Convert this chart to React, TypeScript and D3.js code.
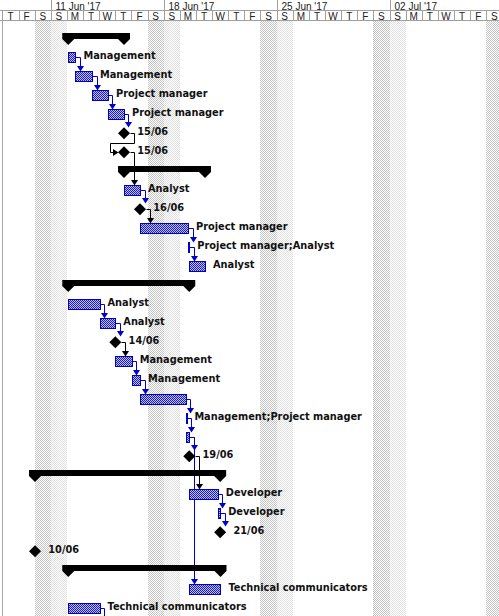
import React from "react";
import * as d3 from "d3";

const WIDTH = 499;
const HEIGHT = 616;

// timeline
const TIMELINE = ["2017-06-08 00:00", "2017-07-09 00:00"];
const WEEK_STARTS = ["2017-06-11 00:00", "2017-06-18 00:00", "2017-06-25 00:00", "2017-07-02 00:00"];
const WEEK_LABELS = ["11 Jun '17", "18 Jun '17", "25 Jun '17", "02 Jul '17"];
const DAY_LETTERS = ["S", "M", "T", "W", "T", "F", "S"];

// rows (one per task line)
const ROW_TYPES = [
  "summary", "task", "task", "task", "task", "milestone", "milestone",
  "summary", "task", "milestone", "task", "task", "task",
  "summary", "task", "task", "milestone", "task", "task", "task", "task", "task", "milestone",
  "summary", "task", "task", "milestone", "milestone",
  "summary", "task", "task",
];
const ROW_STARTS = [
  "2017-06-12 02:00", "2017-06-12 02:00", "2017-06-12 12:45", "2017-06-13 13:20", "2017-06-14 13:07", "2017-06-15 12:55", "2017-06-15 12:55",
  "2017-06-15 12:55", "2017-06-15 12:55", "2017-06-16 12:45", "2017-06-16 12:45", "2017-06-19 12:10", "2017-06-19 14:05",
  "2017-06-12 02:00", "2017-06-12 02:00", "2017-06-14 00:30", "2017-06-14 23:59", "2017-06-14 23:59", "2017-06-16 00:24", "2017-06-16 12:45", "2017-06-19 08:45", "2017-06-19 09:45", "2017-06-19 14:00",
  "2017-06-10 00:30", "2017-06-19 14:00", "2017-06-21 08:30", "2017-06-21 12:00", "2017-06-10 00:30",
  "2017-06-12 02:00", "2017-06-19 14:00", "2017-06-12 02:00",
];
const ROW_ENDS = [
  "2017-06-15 12:55", "2017-06-12 12:45", "2017-06-13 13:20", "2017-06-14 13:07", "2017-06-15 12:55", "2017-06-15 12:55", "2017-06-15 12:55",
  "2017-06-20 13:25", "2017-06-16 12:45", "2017-06-16 12:45", "2017-06-19 12:10", "2017-06-19 14:05", "2017-06-20 13:25",
  "2017-06-19 14:00", "2017-06-14 00:30", "2017-06-14 23:59", "2017-06-14 23:59", "2017-06-16 00:24", "2017-06-16 12:45", "2017-06-19 08:45", "2017-06-19 09:45", "2017-06-19 14:00", "2017-06-19 14:00",
  "2017-06-21 12:00", "2017-06-21 08:30", "2017-06-21 12:00", "2017-06-21 12:00", "2017-06-10 00:30",
  "2017-06-21 12:30", "2017-06-21 12:30", "2017-06-14 00:30",
];
const ROW_LABELS = [
  "", "Management", "Management", "Project manager", "Project manager", "15/06", "15/06",
  "", "Analyst", "16/06", "Project manager", "Project manager;Analyst", "Analyst",
  "", "Analyst", "Analyst", "14/06", "Management", "Management", "", "Management;Project manager", "", "19/06",
  "", "Developer", "Developer", "21/06", "10/06",
  "", "Technical communicators", "Technical communicators",
];

// finish-to-start links (row index -> row index); 31 = task below the visible area
const LINK_FROM = [1, 2, 3, 4, 5, 6, 8, 9, 10, 11, 14, 15, 16, 17, 18, 19, 20, 21, 21, 22, 24, 25, 30];
const LINK_TO = [2, 3, 4, 5, 6, 8, 9, 10, 11, 12, 15, 16, 17, 18, 19, 20, 21, 22, 29, 24, 25, 26, 31];

const BLUE = "#0000c8";
const LABEL_FONT = "'DejaVu Sans', Verdana, sans-serif";
const HEADER_FONT = "'Liberation Sans', Arial, sans-serif";

export default function App() {
  const parse = d3.timeParse("%Y-%m-%d %H:%M");
  const t0 = parse(TIMELINE[0])!;
  const t1 = parse(TIMELINE[1])!;
  const dayW = 16.13;
  const x = d3.scaleTime().domain([t0, t1]).range([2.4, 2.4 + 31 * dayW]);
  const y = d3.scaleLinear().domain([0, 30]).range([38.3, 38.3 + 19 * 30]);
  const days = d3.timeDay.range(t0, t1);
  const rowH = 10;
  const chartTop = 21;

  const starts = ROW_STARTS.map((s) => x(parse(s)!));
  const ends = ROW_ENDS.map((s) => x(parse(s)!));
  const snap = (v: number) => Math.round(v) + 0.5;

  const rightEdge = (i: number) => (ROW_TYPES[i] === "milestone" ? starts[i] + 6 : ends[i]);
  const exitX = (i: number) => (ROW_TYPES[i] === "milestone" ? starts[i] + 10 : ends[i] + 4.5);
  const topOf = (i: number) => (ROW_TYPES[i] === "milestone" ? y(i) - 6 : y(i) - 5);

  const links = LINK_FROM.map((from, k) => {
    const to = LINK_TO[k];
    const color = ROW_TYPES[from] === "milestone" ? "#000" : BLUE;
    const fx = snap(rightEdge(from));
    const fy = snap(y(from));
    const ex = snap(exitX(from));
    if (to >= ROW_TYPES.length) {
      return { color, d: `M${fx},${fy}H${ex}V${HEIGHT}`, arrow: "" };
    }
    const cy = snap(y(to));
    const loop = ROW_TYPES[to] === "milestone" && ex > rightEdge(to) + 1.5;
    if (!loop) {
      const tip = Math.round(topOf(to));
      return {
        color,
        d: `M${fx},${fy}H${ex}V${tip - 4}`,
        arrow: `${ex - 3.5},${tip - 5} ${ex + 3.5},${tip - 5} ${ex},${tip + 0.5}`,
      };
    }
    const lx = snap(starts[to] - 14);
    const tipX = Math.round(starts[to] - 6);
    const midY = snap(y(from) + 9.5);
    return {
      color,
      d: `M${fx},${fy}H${ex}V${midY}H${lx}V${cy}H${tipX - 4}`,
      arrow: `${tipX - 5},${cy - 3.5} ${tipX - 5},${cy + 3.5} ${tipX + 0.5},${cy}`,
    };
  });

  return (
    <svg
      width={WIDTH}
      height={HEIGHT}
      style={{ position: "absolute", left: 0, top: 0, display: "block", background: "#fff" }}
    >
      <defs>
        <pattern id="weekendSat" width="2" height="2" patternUnits="userSpaceOnUse">
          <rect width="2" height="2" fill="#ffffff" />
          <rect x="0" y="0" width="1" height="1" fill="#c4c4c4" />
          <rect x="1" y="1" width="1" height="1" fill="#c4c4c4" />
        </pattern>
        <pattern id="weekendSun" width="2" height="2" patternUnits="userSpaceOnUse">
          <rect width="2" height="2" fill="#ffffff" />
          <rect x="0" y="0" width="1" height="1" fill="#e0e0e0" />
          <rect x="1" y="1" width="1" height="1" fill="#e0e0e0" />
        </pattern>
        <pattern id="barFill" width="2" height="2" patternUnits="userSpaceOnUse">
          <rect width="2" height="2" fill="#c0c0f4" />
          <rect x="0" y="0" width="1" height="1" fill="#1c1cc4" />
          <rect x="1" y="1" width="1" height="1" fill="#1c1cc4" />
        </pattern>
      </defs>

      {/* weekend shading */}
      {days
        .filter((d) => d.getDay() === 0 || d.getDay() === 6)
        .map((d, i) => (
          <rect
            key={"we" + i}
            x={Math.round(x(d))}
            y={chartTop}
            width={Math.round(x(d3.timeDay.offset(d, 1))) - Math.round(x(d))}
            height={HEIGHT - chartTop}
            fill={d.getDay() === 6 ? "url(#weekendSat)" : "url(#weekendSun)"}
          />
        ))}

      {/* header */}
      <rect x={0} y={0} width={WIDTH} height={chartTop} fill="#ffffff" />
      <line x1={0} x2={WIDTH} y1={rowH + 0.5} y2={rowH + 0.5} stroke="#a0a0a0" />
      <line x1={0} x2={WIDTH} y1={chartTop - 0.5} y2={chartTop - 0.5} stroke="#a0a0a0" />
      {WEEK_STARTS.map((s, i) => {
        const wx = snap(x(parse(s)!));
        return (
          <g key={"wk" + i}>
            <line x1={wx} x2={wx} y1={0} y2={rowH} stroke="#a0a0a0" />
            <text x={wx + 4} y={9.5} fontFamily={HEADER_FONT} fontSize={10} fill="#222">
              {WEEK_LABELS[i]}
            </text>
          </g>
        );
      })}
      {days.map((d, i) => {
        const dx = snap(x(d));
        const cx = (x(d) + x(d3.timeDay.offset(d, 1))) / 2;
        return (
          <g key={"day" + i}>
            <line x1={dx} x2={dx} y1={rowH + 1} y2={chartTop - 1} stroke="#a0a0a0" />
            <text x={cx} y={19.5} textAnchor="middle" fontFamily={HEADER_FONT} fontSize={10} fill="#222">
              {DAY_LETTERS[d.getDay()]}
            </text>
          </g>
        );
      })}
      <line x1={2.5} x2={2.5} y1={chartTop} y2={HEIGHT} stroke="#a8a8a8" />

      {/* links */}
      {links.map((l, i) => (
        <g key={"lk" + i}>
          <path d={l.d} fill="none" stroke={l.color} strokeWidth={1} />
          {l.arrow && <polygon points={l.arrow} fill={l.color} />}
        </g>
      ))}

      {/* rows */}
      {ROW_TYPES.map((type, i) => {
        const c = y(i);
        const s = starts[i];
        const e = ends[i];
        if (type === "summary") {
          const top = Math.round(c - 5.5);
          const bot = top + 6;
          return (
            <g key={"row" + i}>
              <rect x={s - 6} y={top} width={e - s + 12} height={6} fill="#000" />
              <polygon points={`${s - 6},${bot} ${s + 6},${bot} ${s},${bot + 6}`} fill="#000" />
              <polygon points={`${e - 6},${bot} ${e + 6},${bot} ${e},${bot + 6}`} fill="#000" />
            </g>
          );
        }
        if (type === "milestone") {
          return (
            <g key={"row" + i}>
              <polygon points={`${s},${c - 6} ${s + 6},${c} ${s},${c + 6} ${s - 6},${c}`} fill="#000" />
              <text x={s + 13.3} y={c + 1.5} fontFamily={LABEL_FONT} fontWeight="bold" fontSize={9.8} fill="#111">
                {ROW_LABELS[i]}
              </text>
            </g>
          );
        }
        const x1 = Math.round(s);
        const x2 = Math.max(Math.round(e), x1 + 1);
        const top = Math.round(c - 5);
        return (
          <g key={"row" + i}>
            <rect x={x1 + 0.5} y={top + 0.5} width={x2 - x1} height={10} fill="url(#barFill)" stroke={BLUE} strokeWidth={1} />
            {ROW_LABELS[i] && (
              <text x={e + 8} y={c + 1.5} fontFamily={LABEL_FONT} fontWeight="bold" fontSize={9.8} fill="#111">
                {ROW_LABELS[i]}
              </text>
            )}
          </g>
        );
      })}
    </svg>
  );
}
